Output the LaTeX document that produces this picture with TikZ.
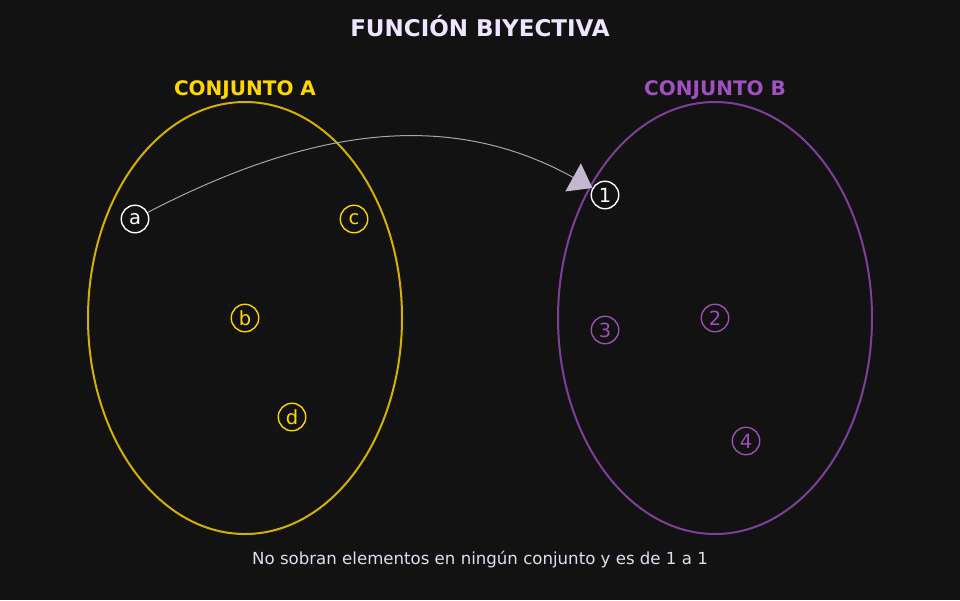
\documentclass[tikz,border=0pt]{standalone}
\usepackage{fontspec}
\setmainfont{DejaVu Sans}
\usetikzlibrary{arrows.meta}
\definecolor{bg}{HTML}{121212}
\definecolor{ytext}{HTML}{FFD700}
\definecolor{yline}{HTML}{D4B000}
\definecolor{ptext}{HTML}{A050C0}
\definecolor{pline}{HTML}{7E3F9A}
\definecolor{pnode}{HTML}{9B4FB8}
\definecolor{titlec}{HTML}{EEE6FF}
\definecolor{subc}{HTML}{E2DDF0}
\definecolor{arrowc}{HTML}{C2B8D2}
\definecolor{linkc}{HTML}{A8A4B0}
\tikzset{
  elem/.style={circle, draw, line width=1.4pt, minimum size=27.5pt, inner sep=0pt, font=\fontsize{19.5}{19.5}\selectfont},
  yel/.style={elem, draw=ytext, text=ytext},
  pur/.style={elem, draw=pnode, text=pnode},
  wht/.style={elem, draw=white, text=white},
  setlabel/.style={font=\fontsize{20}{22}\selectfont\bfseries},
}
\begin{document}
\begin{tikzpicture}[x=1pt,y=-1pt]
\fill[bg] (0,0) rectangle (960,600);
\useasboundingbox (0,0) rectangle (960,600);
\node[font=\fontsize{23}{26}\selectfont\bfseries, text=titlec] (title) at (480,26) {FUNCIÓN BIYECTIVA};
\node[setlabel, text=ytext] (la) at (245,90) {CONJUNTO A};
\node[setlabel, text=ptext] (lb) at (715,90) {CONJUNTO B};
\draw[yline, line width=2pt] (245,318) ellipse [x radius=157, y radius=216];
\draw[pline, line width=2pt] (715,318) ellipse [x radius=157, y radius=216];
\node[wht] (a) at (135,219) {a};
\node[yel] (c) at (354,219) {c};
\node[yel] (b) at (245,318) {b};
\node[yel] (d) at (292,417) {d};
\node[wht] (n1) at (605,195) {1};
\node[pur] (n3) at (605,330) {3};
\node[pur] (n2) at (715,318) {2};
\node[pur] (n4) at (746,441) {4};
\draw[linkc, line width=1pt, -{Triangle[length=22pt,width=32pt,color=arrowc,fill=arrowc]}] (a) .. controls (320,123) and (455,112) .. (n1);
\node[font=\fontsize{16.6}{18}\selectfont, text=subc] (sub) at (480,560) {No sobran elementos en ningún conjunto y es de 1 a 1};
\end{tikzpicture}
\end{document}
